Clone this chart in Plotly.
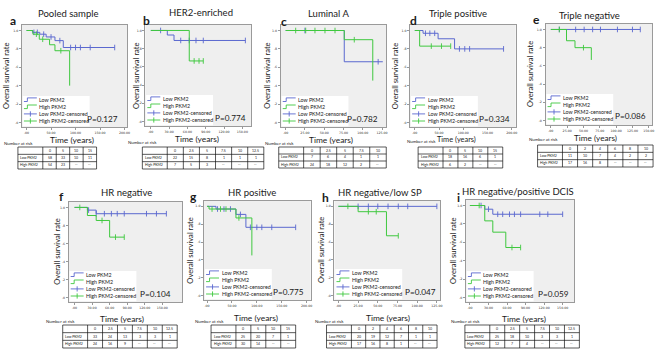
import plotly.graph_objects as go

W, H = 669, 354
BLUE = '#5a68cf'
GREEN = '#3fc83f'
TXT = '#1a1a1a'
FONT = 'Lato'

# ---------------- data (months on x, survival on y) ----------------
# (a) Pooled sample
a_low_t = [0, 12, 27, 40, 58, 75, 180]
a_low_s = [1.0, 0.98, 0.96, 0.93, 0.89, 0.815, 0.815]
a_low_c = [15, 22, 35, 50, 68, 90, 100, 110, 130, 180]
a_high_t = [0, 13, 26, 47, 58, 88]
a_high_s = [1.0, 0.96, 0.905, 0.845, 0.78, 0.40]
a_high_c = [20, 33, 70]
a_xticks = [0, 50, 100, 150, 200]
a_years = ['0', '5', '10', '15']
a_low_n = ['58', '33', '10', '11']
a_high_n = ['54', '23', '--', '--']
a_p = 'P=0.127'

# (b) HER2-enriched
b_low_t = [0, 27, 38, 155]
b_low_s = [1.0, 0.95, 0.89, 0.89]
b_low_c = [16, 49, 63, 74, 86, 155]
b_high_t = [0, 63, 86]
b_high_s = [1.0, 0.665, 0.665]
b_high_c = [71, 79, 86]
b_xticks = [0, 30, 60, 90, 120, 150]
b_years = ['0', '2.5', '5', '7.5', '10', '12.5']
b_low_n = ['22', '15', '8', '1', '1', '1']
b_high_n = ['7', '5', '3', '--', '--', '--']
b_p = 'P=0.774'

# (c) Luminal A
c_low_t = [0, 76, 126]
c_low_s = [1.0, 0.66, 0.66]
c_low_c = [25, 120]
c_high_t = [0, 76, 113]
c_high_s = [1.0, 0.90, 0.455]
c_high_c = [13, 26, 38, 51, 64, 89]
c_xticks = [0, 25, 50, 75, 100, 125]
c_years = ['0', '2.5', '5', '7.5', '10']
c_low_n = ['7', '6', '4', '1', '1']
c_high_n = ['24', '18', '12', '2', '--']
c_p = 'P=0.782'

# (d) Triple positive
d_low_t = [0, 17, 48, 82, 183]
d_low_s = [1.0, 0.97, 0.91, 0.80, 0.80]
d_low_c = [22, 31, 41, 92, 103, 113, 183]
d_high_t = [0, 10, 74]
d_high_s = [1.0, 0.83, 0.83]
d_high_c = [34, 55, 74]
d_xticks = [0, 50, 100, 150, 200]
d_years = ['0', '5', '10', '15']
d_low_n = ['18', '16', '6', '1']
d_high_n = ['6', '2', '--', '--']
d_p = 'P=0.334'

# (e) Triple negative
e_low_t = [0, 137]
e_low_s = [1.0, 1.0]
e_low_c = [13, 38, 51, 64, 76, 102, 125, 137]
e_high_t = [0, 24, 37, 62]
e_high_s = [1.0, 0.876, 0.80, 0.665]
e_high_c = [13, 50]
e_xticks = [0, 25, 50, 75, 100, 125, 150]
e_years = ['0', '2', '4', '6', '8', '10']
e_low_n = ['11', '10', '7', '4', '2', '2']
e_high_n = ['17', '16', '8', '--', '--', '--']
e_p = 'P=0.086'

# (f) HR negative
f_low_t = [0, 22, 37, 157]
f_low_s = [1.0, 0.97, 0.93, 0.93]
f_low_c = [24, 37, 51, 63, 73, 85, 123, 140, 157]
f_high_t = [0, 22, 37, 60, 85]
f_high_s = [1.0, 0.91, 0.855, 0.67, 0.67]
f_high_c = [9, 47, 70, 85]
f_xticks = [0, 30, 60, 90, 120, 150]
f_years = ['0', '2.5', '5', '7.5', '10', '12.5']
f_low_n = ['33', '24', '13', '3', '3', '1']
f_high_n = ['24', '16', '9', '--', '--', '--']
f_p = 'P=0.104'

# (g) HR positive
g_low_t = [0, 18, 58, 78, 178]
g_low_s = [1.0, 0.97, 0.91, 0.765, 0.765]
g_low_c = [21, 34, 47, 67, 87, 100, 110, 130, 178]
g_high_t = [0, 4, 58, 90]
g_high_s = [1.0, 0.97, 0.87, 0.45]
g_high_c = [10, 27, 38, 64]
g_xticks = [0, 50, 100, 150, 200]
g_years = ['0', '5', '10', '15']
g_low_n = ['25', '20', '7', '1']
g_high_n = ['30', '14', '--', '--']
g_p = 'P=0.775'

# (h) HR negative/low SP
h_low_t = [0, 125]
h_low_s = [1.0, 1.0]
h_low_c = [25, 38, 50, 63, 76, 88, 125]
h_high_t = [0, 25, 61, 76]
h_high_s = [1.0, 0.94, 0.67, 0.67]
h_high_c = [12, 38, 48, 76]
h_xticks = [0, 25, 50, 75, 100, 125]
h_years = ['0', '2', '4', '6', '8', '10']
h_low_n = ['20', '19', '12', '7', '1', '1']
h_high_n = ['17', '16', '8', '1', '--', '--']
h_p = 'P=0.047'

# (i) HR negative/positive DCIS
i_low_t = [0, 24, 37, 150]
i_low_s = [1.0, 0.96, 0.905, 0.905]
i_low_c = [18, 30, 45, 53, 64, 72, 82, 113, 126, 150]
i_high_t = [0, 24, 37, 58, 82]
i_high_s = [1.0, 0.833, 0.71, 0.543, 0.543]
i_high_c = [15, 68, 82]
i_xticks = [0, 30, 60, 90, 120, 150]
i_years = ['0', '2.5', '5', '7.5', '10', '12.5']
i_low_n = ['25', '18', '10', '3', '3', '1']
i_high_n = ['12', '7', '4', '--', '--', '--']
i_p = 'P=0.059'

panel_titles = ['Pooled sample', 'HER2-enriched', 'Luminal A', 'Triple positive',
                'Triple negative', 'HR negative', 'HR positive',
                'HR negative/low SP', 'HR negative/positive DCIS']
panel_letters = ['a', 'b', 'c', 'd', 'e', 'f', 'g', 'h', 'i']
legend_labels = ['Low PKM2', 'High PKM2', 'Low PKM2-censored', 'High PKM2-censored']
y_tickvals = [0, 0.2, 0.4, 0.6, 0.8, 1.0]
y_ticktext = ['.0', '.2', '.4', '.6', '.8', '1.0']

panels = []
for pre in 'abcdefghi':
    g = globals()
    panels.append(dict(
        low_t=g[pre + '_low_t'], low_s=g[pre + '_low_s'], low_c=g[pre + '_low_c'],
        high_t=g[pre + '_high_t'], high_s=g[pre + '_high_s'], high_c=g[pre + '_high_c'],
        xticks=g[pre + '_xticks'], years=g[pre + '_years'],
        low_n=g[pre + '_low_n'], high_n=g[pre + '_high_n'], p=g[pre + '_p']))

# ---------------- layout (pixel positions) ----------------
layouts = [
    dict(box=(22, 128, 25, 127), xr=(-9.5, 206), title=(68, 14), letter=(13, 21), ylab=6,
         xlab=(72, 140), xls=8.4, nar=(3, 143), table=(18, 97, 147, 169), pr=120),
    dict(box=(146, 252, 25, 126), xr=(-9, 164), title=(202, 12), letter=(147, 20), ylab=137,
         xlab=(198, 139), xls=8.4, nar=(128, 142), table=(143, 265, 147, 169), pr=248),
    dict(box=(282, 388, 25, 127), xr=(-6.4, 130.5), title=(330, 13), letter=(285, 22), ylab=268,
         xlab=(332, 140), xls=8.4, nar=(265, 143), table=(280, 388, 147, 168), pr=381),
    dict(box=(412, 518, 25, 127), xr=(-9.6, 208), title=(460, 13), letter=(415, 21), ylab=397,
         xlab=(459, 139), xls=7.4, nar=(408, 141), table=(420, 505, 147, 168), pr=513),
    dict(box=(548, 655, 24, 125), xr=(-8.1, 155), title=(592, 15), letter=(539, 19.5), ylab=532,
         xlab=(598, 137.5), xls=8.2, nar=(530, 139.5), table=(540, 656, 145, 167), pr=650),
    dict(box=(69, 183, 202, 302), xr=(-10, 184), title=(127, 192), letter=(62, 196), ylab=57,
         xlab=(123, 319), xls=8.4, nar=(45, 321), table=(63, 178, 325, 348), pr=173),
    dict(box=(205, 312, 201, 300), xr=(-6, 208), title=(253, 192), letter=(194, 196), ylab=190,
         xlab=(257, 318), xls=8.4, nar=(195, 321), table=(212, 297, 325, 348), pr=306),
    dict(box=(336, 442, 201, 300), xr=(-5, 129), title=(382, 192), letter=(327, 197), ylab=322,
         xlab=(390, 318), xls=8.4, nar=(315, 321), table=(328, 439, 325, 348), pr=439),
    dict(box=(468, 577, 200, 302), xr=(-6.5, 169), title=(520, 191), letter=(461, 197), ylab=455,
         xlab=(526, 319), xls=8.4, nar=(452, 321), table=(467, 582, 325, 348), pr=573),
]


def X(v):
    return v / W


def Y(v):
    return 1 - v / H


def step_value(ts, ss, t):
    val = ss[0]
    for ti, si in zip(ts, ss):
        if ti <= t:
            val = si
    return val


def fmt_tick(v):
    s = f'{v:.2f}'
    return s[1:] if s.startswith('0') else s


fig = go.Figure()
shapes = []
annots = []


def txt(x, y, text, size, xanchor='center', yanchor='middle', bold=False, angle=0, family=FONT):
    annots.append(dict(x=X(x), y=Y(y), xref='paper', yref='paper', text=('<b>%s</b>' % text) if bold else text,
                       showarrow=False, xanchor=xanchor, yanchor=yanchor, textangle=angle,
                       font=dict(family=family, size=size, color=TXT), borderpad=0))


def line(x0, y0, x1, y1, color='#111', width=0.7):
    shapes.append(dict(type='line', xref='paper', yref='paper', x0=X(x0), y0=Y(y0), x1=X(x1), y1=Y(y1),
                       line=dict(color=color, width=width)))


for k, (P, L) in enumerate(zip(panels, layouts), start=1):
    xref = 'x' if k == 1 else f'x{k}'
    yref = 'y' if k == 1 else f'y{k}'
    xname = 'xaxis' if k == 1 else f'xaxis{k}'
    yname = 'yaxis' if k == 1 else f'yaxis{k}'

    for tkey, skey, ckey, col in (('low_t', 'low_s', 'low_c', BLUE), ('high_t', 'high_s', 'high_c', GREEN)):
        fig.add_trace(go.Scatter(x=P[tkey], y=P[skey], mode='lines', xaxis=xref, yaxis=yref,
                                 line=dict(color=col, width=1, shape='hv'), showlegend=False, hoverinfo='skip'))
        fig.add_trace(go.Scatter(x=P[ckey], y=[step_value(P[tkey], P[skey], t) for t in P[ckey]],
                                 mode='markers', xaxis=xref, yaxis=yref, showlegend=False, hoverinfo='skip',
                                 marker=dict(symbol='line-ns', size=4, color=col, line=dict(color=col, width=0.9))))

    bx0, bx1, by0, by1 = L['box']
    fig.update_layout(**{
        xname: dict(domain=[X(bx0), X(bx1)], anchor=yref, range=list(L['xr']),
                    tickvals=P['xticks'], ticktext=[fmt_tick(v) for v in P['xticks']],
                    tickfont=dict(size=3.2, family='DejaVu Sans', color='#333'),
                    ticks='outside', ticklen=2, tickwidth=0.6, tickcolor='#555',
                    showline=True, mirror=True, linecolor='#9a9a9a', linewidth=1,
                    showgrid=False, zeroline=False, fixedrange=True),
        yname: dict(domain=[Y(by1), Y(by0)], anchor=xref, range=[-0.05, 1.06],
                    tickvals=y_tickvals, ticktext=y_ticktext,
                    tickfont=dict(size=3.2, family='DejaVu Sans', color='#333'),
                    ticks='outside', ticklen=2, tickwidth=0.6, tickcolor='#555',
                    showline=True, mirror=True, linecolor='#9a9a9a', linewidth=1,
                    showgrid=False, zeroline=False, fixedrange=True),
    })

    # texts
    txt(L['title'][0], L['title'][1], panel_titles[k - 1], 9.5)
    txt(L['letter'][0], L['letter'][1], panel_letters[k - 1], 12, bold=True)
    txt(L['ylab'], (by0 + by1) / 2, 'Overall survival rate', 7.6, angle=-90)
    txt(L['xlab'][0], L['xlab'][1], 'Time (years)', L['xls'])
    txt(L['nar'][0], L['nar'][1], 'Number at risk', 4.4, xanchor='left')
    txt(L['pr'], by1 - 8.5, P['p'], 8.2, xanchor='right')

    # legend box
    shapes.append(dict(type='rect', xref='paper', yref='paper', x0=X(bx0 + 0.8), x1=X(bx0 + 68),
                       y0=Y(by1 - 0.8), y1=Y(by1 - 31), fillcolor='white', line=dict(width=0)))
    for r, lab in enumerate(legend_labels):
        yy = by1 - 27.3 + r * 7.1
        col = BLUE if r % 2 == 0 else GREEN
        ix0, ix1 = bx0 + 2, bx0 + 15
        if r < 2:
            path = (f'M {X(ix0)} {Y(yy + 1.8)} L {X(ix0 + 3.5)} {Y(yy + 1.8)} '
                    f'L {X(ix0 + 3.5)} {Y(yy - 1.8)} L {X(ix1)} {Y(yy - 1.8)}')
            shapes.append(dict(type='path', xref='paper', yref='paper', path=path,
                               line=dict(color=col, width=0.9)))
        else:
            line(ix0, yy, ix1, yy, color=col, width=0.9)
            line((ix0 + ix1) / 2, yy - 2.6, (ix0 + ix1) / 2, yy + 2.6, color=col, width=0.9)
        txt(bx0 + 16.5, yy, lab, 5.3, xanchor='left')

    # number at risk table
    tx0, tx1, ty0, ty1 = L['table']
    ncol = len(P['years'])
    first = 25
    cw = (tx1 - tx0 - first) / ncol
    rh = (ty1 - ty0) / 3
    shapes.append(dict(type='rect', xref='paper', yref='paper', x0=X(tx0), x1=X(tx1), y0=Y(ty1), y1=Y(ty0),
                       line=dict(color='#111', width=0.7)))
    for r in (1, 2):
        line(tx0, ty0 + r * rh, tx1, ty0 + r * rh)
    for c in range(ncol):
        xc = tx0 + first + c * cw
        line(xc, ty0, xc, ty1)
    rows = [[''] + P['years'], ['Low PKM2'] + P['low_n'], ['High PKM2'] + P['high_n']]
    for r, row in enumerate(rows):
        yc = ty0 + (r + 0.5) * rh
        for c, val in enumerate(row):
            if not val:
                continue
            if c == 0:
                txt(tx0 + 1.5, yc, val, 3.5, xanchor='left')
            else:
                txt(tx0 + first + (c - 0.5) * cw, yc, val, 3.5)

fig.update_layout(width=W, height=H, autosize=False, margin=dict(l=0, r=0, t=0, b=0),
                  paper_bgcolor='white', plot_bgcolor='#efefef', showlegend=False,
                  font=dict(family=FONT, color=TXT), shapes=shapes, annotations=annots)

fig.write_html('out.html', config={'displayModeBar': False, 'staticPlot': True},
               post_script="document.body.style.margin='0px';document.body.style.padding='0px';"
                           "document.body.style.overflow='hidden';")
